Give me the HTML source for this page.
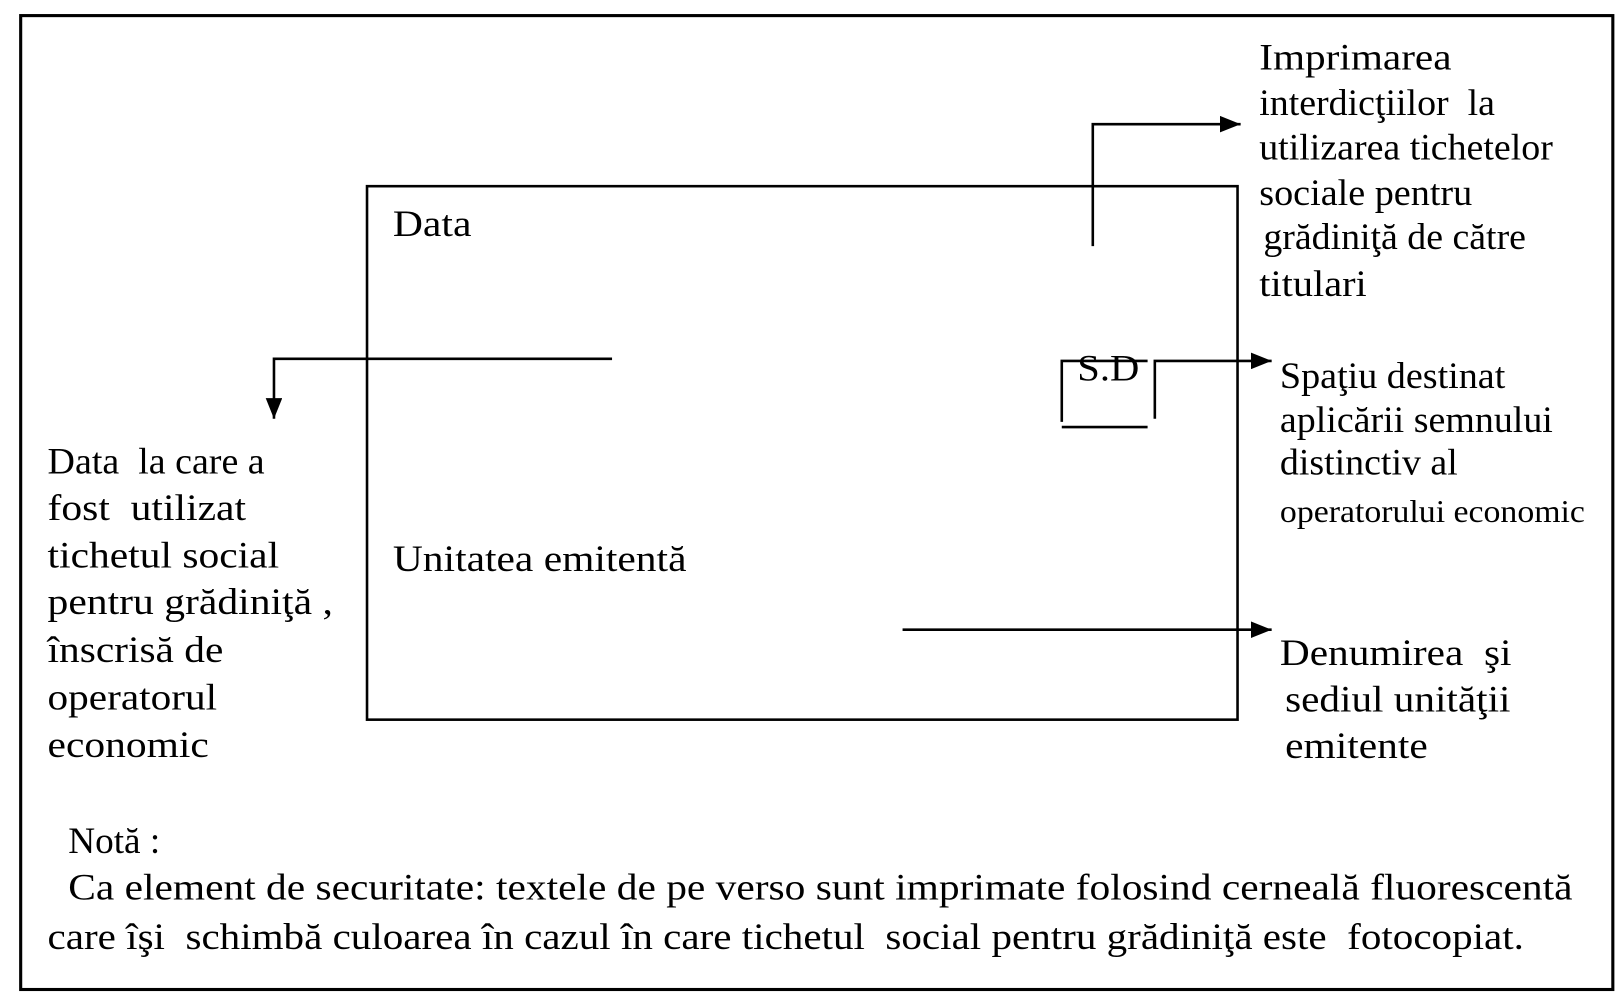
<!DOCTYPE html>
<html><head><meta charset="utf-8"><style>html,body{margin:0;padding:0;background:#fff}svg{display:block}text{font-family:"Liberation Serif",serif;font-size:36px;fill:#000;white-space:pre}</style></head><body>
<svg width="1618" height="1002" viewBox="0 0 1565 969" xmlns="http://www.w3.org/2000/svg" xml:space="preserve">
<defs><marker id="b" viewBox="0 0 20 16" refX="20" refY="8" markerWidth="20" markerHeight="16" orient="auto" markerUnits="userSpaceOnUse"><path d="M0,0L20,8L0,16z"/></marker></defs>
<rect x="20" y="15" width="1540" height="942" fill="none" stroke="#000" stroke-width="3"/>
<rect x="355" y="180" width="842" height="516" fill="none" stroke="#000" stroke-width="2.5"/>
<g stroke="#000" stroke-width="2.5" fill="none">
<path d="M1057,238 V120 H1200" marker-end="url(#b)"/>
<path d="M592,347 H265 V405" marker-end="url(#b)"/>
<path d="M1027,408 V349 H1110"/>
<path d="M1027,413 H1110"/>
<path d="M1117,405 V349 H1230" marker-end="url(#b)"/>
<path d="M873,609 H1230" marker-end="url(#b)"/>
</g>
<text x="1218" y="67" textLength="186" lengthAdjust="spacingAndGlyphs">Imprimarea</text>
<text x="1218" y="111" textLength="228" lengthAdjust="spacingAndGlyphs">interdicţiilor  la</text>
<text x="1218" y="154" textLength="284" lengthAdjust="spacingAndGlyphs">utilizarea tichetelor</text>
<text x="1218" y="198" textLength="206" lengthAdjust="spacingAndGlyphs">sociale pentru</text>
<text x="1222" y="241" textLength="254" lengthAdjust="spacingAndGlyphs">grădiniţă de către</text>
<text x="1218" y="286" textLength="104" lengthAdjust="spacingAndGlyphs">titulari</text>
<text x="380" y="228" textLength="76" lengthAdjust="spacingAndGlyphs">Data</text>
<text x="380" y="552" textLength="284" lengthAdjust="spacingAndGlyphs">Unitatea emitentă</text>
<text x="1042" y="368" textLength="60" lengthAdjust="spacingAndGlyphs">S.D</text>
<text x="1238" y="375" textLength="218" lengthAdjust="spacingAndGlyphs">Spaţiu destinat</text>
<text x="1238" y="418" textLength="264" lengthAdjust="spacingAndGlyphs">aplicării semnului</text>
<text x="1238" y="459" textLength="172" lengthAdjust="spacingAndGlyphs">distinctiv al</text>
<text x="1238" y="505" style="font-size:31px" textLength="295" lengthAdjust="spacingAndGlyphs">operatorului economic</text>
<text x="1238" y="643" textLength="224" lengthAdjust="spacingAndGlyphs">Denumirea  şi</text>
<text x="1243" y="688" textLength="218" lengthAdjust="spacingAndGlyphs">sediul unităţii</text>
<text x="1243" y="733" textLength="138" lengthAdjust="spacingAndGlyphs">emitente</text>
<text x="46" y="458" textLength="210" lengthAdjust="spacingAndGlyphs">Data  la care a</text>
<text x="46" y="503" textLength="192" lengthAdjust="spacingAndGlyphs">fost  utilizat</text>
<text x="46" y="549" textLength="224" lengthAdjust="spacingAndGlyphs">tichetul social</text>
<text x="46" y="594" textLength="276" lengthAdjust="spacingAndGlyphs">pentru grădiniţă ,</text>
<text x="46" y="640" textLength="170" lengthAdjust="spacingAndGlyphs">înscrisă de</text>
<text x="46" y="686" textLength="164" lengthAdjust="spacingAndGlyphs">operatorul</text>
<text x="46" y="732" textLength="156" lengthAdjust="spacingAndGlyphs">economic</text>
<text x="66" y="825">Notă :</text>
<text x="66" y="870" textLength="1455" lengthAdjust="spacingAndGlyphs">Ca element de securitate: textele de pe verso sunt imprimate folosind cerneală fluorescentă</text>
<text x="46" y="918" textLength="1428" lengthAdjust="spacingAndGlyphs">care îşi  schimbă culoarea în cazul în care tichetul  social pentru grădiniţă este  fotocopiat.</text>
</svg>
</body></html>
